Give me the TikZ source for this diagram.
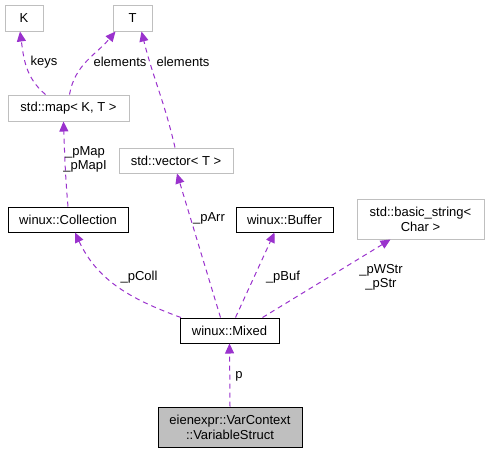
\documentclass[tikz,border=0pt]{standalone}
\usepackage{fontspec}
\setmainfont{Liberation Sans}
\usepackage{tikz}
\usetikzlibrary{arrows.meta}
\usetikzlibrary{positioning}
\definecolor{depcol}{HTML}{9A32CD}
\definecolor{boxgray}{HTML}{BFBFBF}
\tikzset{
    cls/.style={
        draw=boxgray,
        rectangle,
        fill=white,
        line width=1pt,
        minimum height=26pt,
        inner sep=1pt,
        align=center,
        font=\fontsize{13}{15}\selectfont
    },
    doccls/.style={
        cls,
        draw=black
    },
    dep/.style={
        draw=depcol,
        line width=1pt,
        dash pattern=on 5pt off 4pt,
        -{Triangle[length=10pt, width=9pt]}
    },
    lbl/.style={
        font=\fontsize{13}{14}\selectfont,
        align=center,
        inner sep=0pt
    }
}

\begin{document}
\begin{tikzpicture}[x=1pt,y=-1pt]
    \useasboundingbox (0,0) rectangle (489,453);

    \node[cls, minimum width=38pt] (K) at (24,18) {K};
    \node[cls, minimum width=39pt] (T) at (132.5,18) {T};
    \node[cls, minimum width=121pt] (map) at (68.5,108) {std::map< K, T >};
    \node[cls, minimum width=114pt, minimum height=25pt] (vector) at (176,160.5) {std::vector< T >};
    \node[doccls, minimum width=120pt, minimum height=25pt] (collection) at (68,219.5) {winux::Collection};
    \node[doccls, minimum width=97pt, minimum height=25pt] (buffer) at (284.5,219.5) {winux::Buffer};
    \node[cls, minimum width=127pt, minimum height=40pt] (bstr) at (420.5,219) {std::basic\_string<\\Char >};
    \node[doccls, minimum width=99pt, minimum height=25pt] (mixed) at (229.5,330.5) {winux::Mixed};
    \node[doccls, fill=boxgray, minimum width=144pt, minimum height=40pt] (vs) at (230,427) {eienexpr::VarContext\\::VariableStruct};

    \draw[dep] (vs.north) -- (mixed.south);
    \draw[dep] (mixed.165) to[out=160,in=-65] ([xshift=7pt]collection.south);
    \draw[dep] ([xshift=-9pt]mixed.north) -- ([xshift=1pt]vector.south);
    \draw[dep] ([xshift=6pt]mixed.north) -- ([xshift=-10pt]buffer.south);
    \draw[dep] ([xshift=33pt]mixed.north) -- ([xshift=-30pt]bstr.south);
    \draw[dep] (collection.north) to[out=95,in=-88] ([xshift=-5pt]map.south);
    \draw[dep] ([xshift=-23pt]map.north) to[out=140,in=-82] ([xshift=-4pt]K.south);
    \draw[dep] ([xshift=1pt]map.north) to[out=80,in=-130] ([xshift=-17pt]T.south);
    \draw[dep] ([xshift=-1pt]vector.north) to[out=103,in=-76] ([xshift=9pt]T.south);

    \node[lbl] (lkeys) at (44,62) {keys};
    \node[lbl] (lelem) at (120,62) {elements};
    \node[lbl] (lelemv) at (183,62) {elements};
    \node[lbl] (lmap) at (85,159) {\_pMap\\\_pMapI};
    \node[lbl] (larr) at (209,218) {\_pArr};
    \node[lbl] (lcoll) at (139,277) {\_pColl};
    \node[lbl] (lbuf) at (283,277) {\_pBuf};
    \node[lbl] (lstr) at (381,277) {\_pWStr\\\_pStr};
    \node[lbl] (lp) at (239,376) {p};
\end{tikzpicture}
\end{document}
